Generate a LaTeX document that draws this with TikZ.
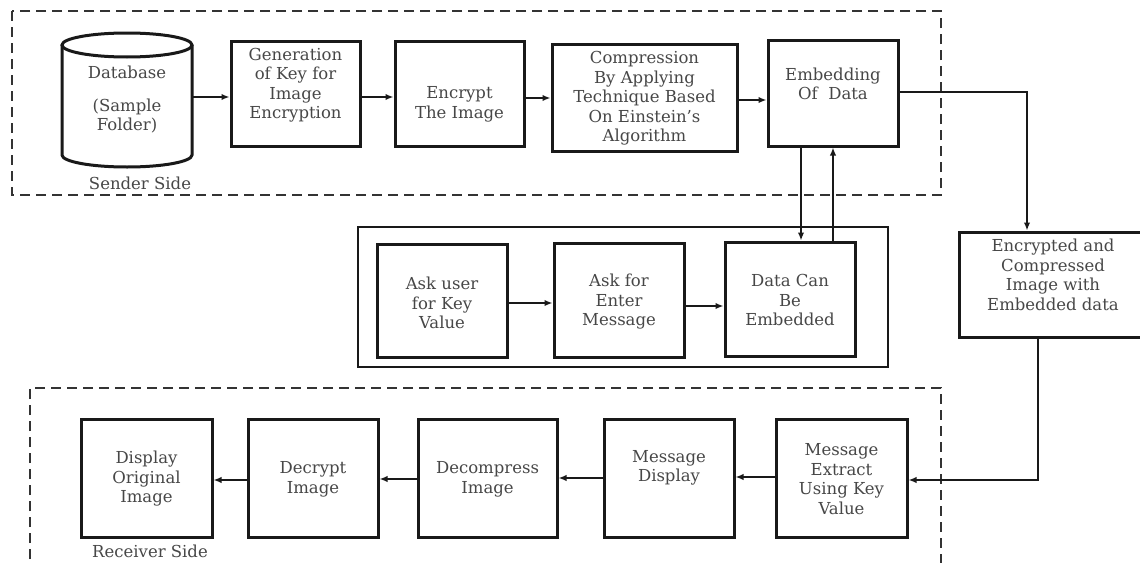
\documentclass[tikz,border=0pt]{standalone}
\usepackage{fontspec}
\setmainfont{DejaVu Serif}
\usetikzlibrary{arrows.meta,calc}

\tikzset{
  stepbox/.style={draw=black!90, line width=3pt, minimum width=#1, inner sep=0pt},
  stepbox/.default=130,
  txt/.style={align=center, text=black!72, inner sep=0pt,
    font=\fontsize{16.5}{19.5}\selectfont},
  arr/.style={line width=2.4pt, draw=black!90, -{Latex[length=8pt,width=6.5pt]}},
  plain/.style={line width=2.4pt, draw=black!90},
  zone/.style={line width=2.2pt, draw=black!80, dash pattern=on 10pt off 6pt},
}

\begin{document}
\begin{tikzpicture}[x=1pt,y=-1pt]
  \useasboundingbox (0,0) rectangle (1140,562);
  \clip (0,0) rectangle (1140,562);
  \fill[white] (0,0) rectangle (1140,562);

  % sender and receiver zones
  \draw[zone] (12,11) rectangle (941,195);
  \draw[zone] (30,575) -- (30,388) -- (941,388) -- (941,575);

  % database cylinder
  \draw[line width=3pt, draw=black!90] (127,45) ellipse [x radius=65, y radius=12];
  \draw[line width=3pt, draw=black!90] (62,45) -- (62,155)
    arc[start angle=180, end angle=0, x radius=65, y radius=12] -- (192,45);
  \node[txt, minimum width=130, minimum height=134] (db) at (127,100) {};
  \node[txt] (dbt) at (127,100) {Database\\[13pt](Sample\\Folder)};
  \node[txt] (sender) at (140,183) {Sender Side};

  % sender chain
  \node[stepbox=129, minimum height=105] (gen) at (295.5,93.5) {};
  \node[txt] (gent) at (295.5,85) {Generation\\of Key for\\Image\\Encryption};
  \node[stepbox=129, minimum height=105] (enc) at (459.5,93.5) {};
  \node[txt] (enct) at (459.5,104.5) {Encrypt\\The Image};
  \node[stepbox=185, minimum height=107] (comp) at (644.5,97.5) {};
  \node[txt] (compt) at (644.5,98.5) {Compression\\By Applying\\Technique Based\\On Einstein's\\Algorithm};
  \node[stepbox=130, minimum height=106] (emb) at (833,93) {};
  \node[txt] (embt) at (833,84) {Embedding\\Of\ \ Data};

  % message entry group
  \draw[plain] (358,227) rectangle (888,367);
  \node[stepbox=130, minimum height=113] (ask) at (442,300.5) {};
  \node[txt] (askt) at (442,303) {Ask user\\for Key\\Value};
  \node[stepbox=130, minimum height=114] (msg) at (619,300) {};
  \node[txt] (msgt) at (619,302) {Ask for\\Enter\\Message};
  \node[stepbox=130, minimum height=114] (data) at (790,299) {};
  \node[txt] (datat) at (790,300) {Data Can\\Be\\Embedded};

  % transmitted image
  \node[stepbox=186, minimum height=105] (encr) at (1052,284.5) {};
  \node[txt] (encrt) at (1053,275) {Encrypted and\\Compressed\\Image with\\Embedded data};

  % receiver chain
  \node[stepbox=131, minimum height=118] (extr) at (841.5,478) {};
  \node[txt] (extrt) at (841.5,479) {Message\\Extract\\Using Key\\Value};
  \node[stepbox=130, minimum height=118] (mdisp) at (669,478) {};
  \node[txt] (mdispt) at (669,468) {Message\\Display};
  \node[stepbox=139, minimum height=118] (decomp) at (487.5,478) {};
  \node[txt] (decompt) at (487.5,479.5) {Decompress\\Image};
  \node[stepbox=130, minimum height=118] (decr) at (313,478) {};
  \node[txt] (decrt) at (313,479.5) {Decrypt\\Image};
  \node[stepbox=131, minimum height=118] (disp) at (146.5,478) {};
  \node[txt] (dispt) at (146.5,479) {Display\\Original\\Image};
  \node[txt] (receiver) at (150,551) {Receiver Side};

  % connectors
  \draw[arr] (db.east |- 0,97) -- (gen.west |- 0,97);
  \draw[arr] (gen.east |- 0,97) -- (enc.west |- 0,97);
  \draw[arr] (enc.east |- 0,98) -- (comp.west |- 0,98);
  \draw[arr] (comp.east |- 0,100) -- (emb.west |- 0,100);
  \draw[arr] (emb.east |- 0,92) -| (encr.north -| 1027,0);
  \draw[arr] (emb.south -| 801,0) -- (data.north -| 801,0);
  \draw[arr] (data.north -| 833,0) -- (emb.south -| 833,0);
  \draw[arr] (ask.east |- 0,303) -- (msg.west |- 0,303);
  \draw[arr] (msg.east |- 0,306) -- (data.west |- 0,306);
  \draw[arr] (encr.south -| 1038,0) |- (extr.east |- 0,480);
  \draw[arr] (extr.west |- 0,477) -- (mdisp.east |- 0,477);
  \draw[arr] (mdisp.west |- 0,478) -- (decomp.east |- 0,478);
  \draw[arr] (decomp.west |- 0,479) -- (decr.east |- 0,479);
  \draw[arr] (decr.west |- 0,480) -- (disp.east |- 0,480);
\end{tikzpicture}
\end{document}
